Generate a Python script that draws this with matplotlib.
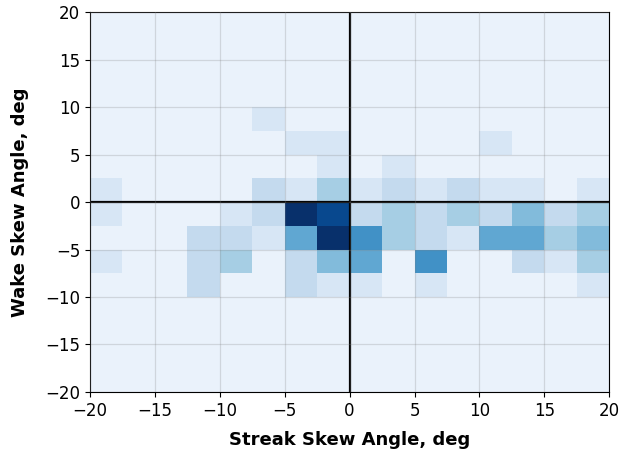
import numpy as np
import matplotlib
matplotlib.use("Agg")
import matplotlib.pyplot as plt

# bin edges (deg)
x_edges = np.arange(-20, 20.1, 2.5)
y_edges = np.arange(-20, 20.1, 2.5)

# counts per bin, rows from y=-20 (bottom) up to y=20 (top), columns from x=-20 to x=20
counts = np.zeros((16, 16))
# row index 0 -> [-20,-17.5]
counts[4] = [0, 0, 0, 2, 0, 0, 2, 1, 1, 0, 1, 0, 0, 0, 0, 1]    # [-10,-7.5]
counts[5] = [1, 0, 0, 2, 3, 0, 2, 4, 5, 0, 6, 0, 0, 2, 1, 3]    # [-7.5,-5]
counts[6] = [0, 0, 0, 2, 2, 1, 5, 10, 6, 3, 2, 1, 5, 5, 3, 4]   # [-5,-2.5]
counts[7] = [1, 0, 0, 0, 1, 2, 10, 9, 2, 3, 2, 3, 2, 4, 2, 3]   # [-2.5,0]
counts[8] = [1, 0, 0, 0, 0, 2, 1, 3, 1, 2, 1, 2, 1, 1, 0, 1]    # [0,2.5]
counts[9] = [0, 0, 0, 0, 0, 0, 0, 1, 0, 1, 0, 0, 0, 0, 0, 0]    # [2.5,5]
counts[10] = [0, 0, 0, 0, 0, 0, 1, 1, 0, 0, 0, 0, 1, 0, 0, 0]   # [5,7.5]
counts[11] = [0, 0, 0, 0, 0, 1, 0, 0, 0, 0, 0, 0, 0, 0, 0, 0]   # [7.5,10]

fig = plt.figure(figsize=(6.21, 4.51), dpi=100)
ax = fig.add_axes([0.145, 0.131, 0.836, 0.842])

ax.pcolormesh(x_edges, y_edges, counts, cmap="Blues", vmin=-0.75, vmax=10)
ax.grid(True, color="gray", alpha=0.25, linewidth=0.9)
ax.set_axisbelow(False)
ax.axhline(0, color="black", linewidth=1.6)
ax.axvline(0, color="black", linewidth=1.6)

ax.set_xlim(-20, 20)
ax.set_ylim(-20, 20)
ax.set_xticks(np.arange(-20, 21, 5))
ax.set_yticks(np.arange(-20, 21, 5))
ax.tick_params(labelsize=12)
ax.set_xlabel("Streak Skew Angle, deg", fontsize=13, fontweight="bold", labelpad=8)
ax.set_ylabel("Wake Skew Angle, deg", fontsize=13, fontweight="bold", labelpad=12)

fig.savefig("out.png", dpi=100)
